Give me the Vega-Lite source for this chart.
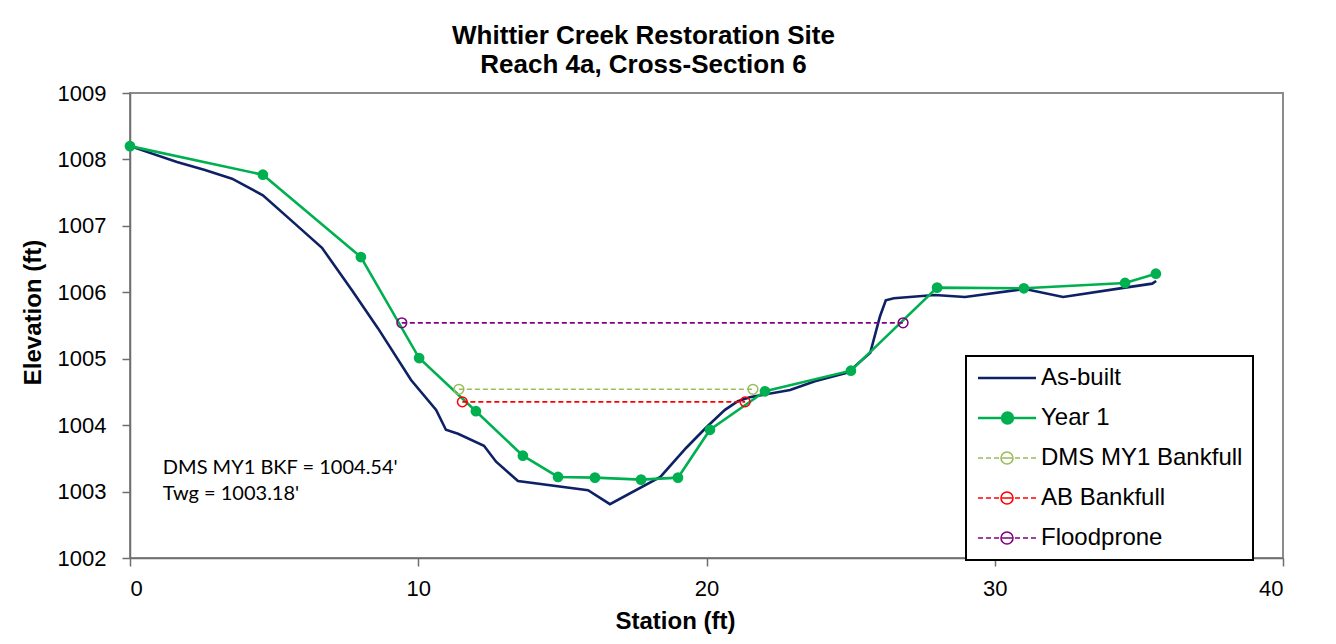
{
  "$schema": "https://vega.github.io/schema/vega-lite/v6.json",
  "width": 1153,
  "height": 465,
  "autosize": {"type": "none"},
  "padding": {"left": 130, "top": 93, "right": 53, "bottom": 86},
  "background": "white",
  "title": {
    "text": ["Whittier Creek Restoration Site", "Reach 4a, Cross-Section 6"],
    "font": "Liberation Sans",
    "fontSize": 26,
    "fontWeight": "bold",
    "color": "black",
    "lineHeight": 29,
    "anchor": "middle",
    "dx": -63,
    "offset": 4
  },
  "datasets": {
    "notes": [
      {"label": "DMS MY1 BKF = 1004.54'\nTwg = 1003.18'"}
    ]
  },
  "data": {
    "values": [
      {"series": "As-built", "x": 0, "y": 1008.2},
      {"series": "As-built", "x": 1.63, "y": 1007.96},
      {"series": "As-built", "x": 2.6, "y": 1007.84},
      {"series": "As-built", "x": 3.54, "y": 1007.71},
      {"series": "As-built", "x": 4.61, "y": 1007.46},
      {"series": "As-built", "x": 5.65, "y": 1007.06},
      {"series": "As-built", "x": 6.66, "y": 1006.67},
      {"series": "As-built", "x": 7.7, "y": 1006.03},
      {"series": "As-built", "x": 8.6, "y": 1005.46},
      {"series": "As-built", "x": 9.75, "y": 1004.68},
      {"series": "As-built", "x": 10.62, "y": 1004.23},
      {"series": "As-built", "x": 10.96, "y": 1003.93},
      {"series": "As-built", "x": 11.38, "y": 1003.87},
      {"series": "As-built", "x": 12.28, "y": 1003.69},
      {"series": "As-built", "x": 12.7, "y": 1003.45},
      {"series": "As-built", "x": 13.46, "y": 1003.16},
      {"series": "As-built", "x": 15.89, "y": 1003.02},
      {"series": "As-built", "x": 16.65, "y": 1002.81},
      {"series": "As-built", "x": 18.4, "y": 1003.22},
      {"series": "As-built", "x": 19.3, "y": 1003.66},
      {"series": "As-built", "x": 19.98, "y": 1003.96},
      {"series": "As-built", "x": 20.64, "y": 1004.23},
      {"series": "As-built", "x": 21.09, "y": 1004.36},
      {"series": "As-built", "x": 21.5, "y": 1004.42},
      {"series": "As-built", "x": 22.9, "y": 1004.53},
      {"series": "As-built", "x": 23.76, "y": 1004.66},
      {"series": "As-built", "x": 24.9, "y": 1004.79},
      {"series": "As-built", "x": 25.68, "y": 1005.09},
      {"series": "As-built", "x": 26.02, "y": 1005.64},
      {"series": "As-built", "x": 26.22, "y": 1005.88},
      {"series": "As-built", "x": 26.5, "y": 1005.91},
      {"series": "As-built", "x": 27.92, "y": 1005.96},
      {"series": "As-built", "x": 28.97, "y": 1005.93},
      {"series": "As-built", "x": 31.05, "y": 1006.05},
      {"series": "As-built", "x": 32.37, "y": 1005.93},
      {"series": "As-built", "x": 34.52, "y": 1006.07},
      {"series": "As-built", "x": 35.46, "y": 1006.13},
      {"series": "As-built", "x": 35.6, "y": 1006.17},
      {"series": "Year 1", "x": 0, "y": 1008.2},
      {"series": "Year 1", "x": 4.61, "y": 1007.77},
      {"series": "Year 1", "x": 8.01, "y": 1006.53},
      {"series": "Year 1", "x": 10.03, "y": 1005.01},
      {"series": "Year 1", "x": 12.0, "y": 1004.21},
      {"series": "Year 1", "x": 13.63, "y": 1003.54},
      {"series": "Year 1", "x": 14.85, "y": 1003.22},
      {"series": "Year 1", "x": 16.13, "y": 1003.21},
      {"series": "Year 1", "x": 17.73, "y": 1003.18},
      {"series": "Year 1", "x": 19.01, "y": 1003.21},
      {"series": "Year 1", "x": 20.12, "y": 1003.93},
      {"series": "Year 1", "x": 22.03, "y": 1004.51},
      {"series": "Year 1", "x": 25.01, "y": 1004.82},
      {"series": "Year 1", "x": 28.0, "y": 1006.07},
      {"series": "Year 1", "x": 31.01, "y": 1006.06},
      {"series": "Year 1", "x": 34.52, "y": 1006.14},
      {"series": "Year 1", "x": 35.59, "y": 1006.28},
      {"series": "DMS MY1 Bankfull", "x": 11.41, "y": 1004.54},
      {"series": "DMS MY1 Bankfull", "x": 21.61, "y": 1004.54},
      {"series": "AB Bankfull", "x": 11.53, "y": 1004.35},
      {"series": "AB Bankfull", "x": 21.34, "y": 1004.35},
      {"series": "Floodprone", "x": 9.43, "y": 1005.54},
      {"series": "Floodprone", "x": 26.82, "y": 1005.54}
    ]
  },
  "layer": [
    {
      "transform": [{"filter": {"field": "series", "oneOf": ["As-built", "Year 1"]}}],
      "mark": {"type": "line", "strokeWidth": 2.6},
      "encoding": {
        "x": {
          "field": "x",
          "type": "quantitative",
          "scale": {"domain": [0, 40], "nice": false, "zero": false},
          "axis": {"values": [0, 10, 20, 30, 40], "title": "Station (ft)", "grid": false, "titleX": 545}
        },
        "y": {
          "field": "y",
          "type": "quantitative",
          "scale": {"domain": [1002, 1009], "nice": false, "zero": false},
          "axis": {"values": [1002, 1003, 1004, 1005, 1006, 1007, 1008, 1009], "format": "d", "title": "Elevation (ft)", "grid": false, "titleY": 219}
        },
        "color": {
          "field": "series",
          "type": "nominal",
          "scale": {
            "domain": ["As-built", "Year 1", "DMS MY1 Bankfull", "AB Bankfull", "Floodprone"],
            "range": ["#0E2164", "#00B050", "#9BBB59", "#FF0000", "#800080"]
          },
          "legend": {
            "title": null,
            "orient": "none",
            "legendX": 836,
            "legendY": 263,
            "padding": 10,
            "strokeColor": "black",
            "fillColor": "white",
            "symbolSize": 400,
            "symbolOffset": 0,
            "labelOffset": 41,
            "labelFont": "Liberation Sans",
            "labelFontSize": 24,
            "labelColor": "black",
            "labelLimit": 400,
            "rowPadding": 16,
            "symbolType": "M-1,0H4.8",
            "encode": {
              "legend": {"update": {"strokeWidth": {"value": 2}}},
              "symbols": {
                "update": {
                  "shape": {"signal": "datum.value === 'As-built' ? 'M-1,0H4.8' : datum.value === 'Year 1' ? 'M-1,0H4.8M2.5,0A0.55,0.55,0,1,1,1.4,0A0.55,0.55,0,1,1,2.5,0' : 'M-1,0H-0.5M-0.2,0H0.3M0.6,0H1.1M1.4,0H2.4M2.5,0A0.6,0.6,0,1,1,1.3,0A0.6,0.6,0,1,1,2.5,0M2.7,0H3.2M3.5,0H4M4.3,0H4.8'"},
                  "fill": {"signal": "scale('color', datum.value)"},
                  "fillOpacity": {"signal": "datum.value === 'Year 1' ? 1 : 0"},
                  "stroke": {"signal": "scale('color', datum.value)"},
                  "strokeWidth": {"signal": "datum.value === 'As-built' || datum.value === 'Year 1' ? 2.5 : 1.6"},
                  "strokeDash": {"value": []},
                  "opacity": {"value": 1}
                }
              }
            }
          }
        }
      }
    },
    {
      "transform": [{"filter": {"field": "series", "oneOf": ["DMS MY1 Bankfull", "AB Bankfull", "Floodprone"]}}],
      "mark": {"type": "line", "strokeWidth": 1.6, "strokeDash": [5, 3]},
      "encoding": {
        "x": {"field": "x", "type": "quantitative"},
        "y": {"field": "y", "type": "quantitative"},
        "color": {"field": "series", "type": "nominal"}
      }
    },
    {
      "transform": [{"filter": {"field": "series", "equal": "Year 1"}}],
      "mark": {"type": "point", "shape": "circle", "filled": true, "size": 115, "opacity": 1},
      "encoding": {
        "x": {"field": "x", "type": "quantitative"},
        "y": {"field": "y", "type": "quantitative"},
        "color": {"field": "series", "type": "nominal"}
      }
    },
    {
      "transform": [{"filter": {"field": "series", "oneOf": ["DMS MY1 Bankfull", "AB Bankfull", "Floodprone"]}}],
      "mark": {"type": "point", "shape": "circle", "filled": false, "size": 95, "strokeWidth": 1.5, "opacity": 1},
      "encoding": {
        "x": {"field": "x", "type": "quantitative"},
        "y": {"field": "y", "type": "quantitative"},
        "color": {"field": "series", "type": "nominal"}
      }
    },
    {
      "data": {"name": "notes"},
      "mark": {
        "type": "text",
        "align": "left",
        "baseline": "middle",
        "font": "Lato",
        "fontSize": 20,
        "lineHeight": 26,
        "lineBreak": "\n",
        "color": "black"
      },
      "encoding": {
        "x": {"datum": 1.14, "type": "quantitative"},
        "y": {"datum": 1003.36, "type": "quantitative"},
        "text": {"field": "label", "type": "nominal"}
      }
    }
  ],
  "config": {
    "view": {"stroke": "#8c8c8c", "strokeWidth": 2},
    "axis": {
      "labelFont": "Liberation Sans",
      "labelFontSize": 22,
      "labelColor": "black",
      "titleFont": "Liberation Sans",
      "titleFontSize": 24,
      "titleFontWeight": "bold",
      "titleColor": "black",
      "domainColor": "#6e6e6e",
      "domainWidth": 1.5,
      "tickColor": "#6e6e6e",
      "tickWidth": 1.5,
      "tickSize": 8
    },
    "axisX": {"labelPadding": 12, "titlePadding": 10},
    "axisY": {"labelPadding": 16, "titlePadding": 12}
  }
}
